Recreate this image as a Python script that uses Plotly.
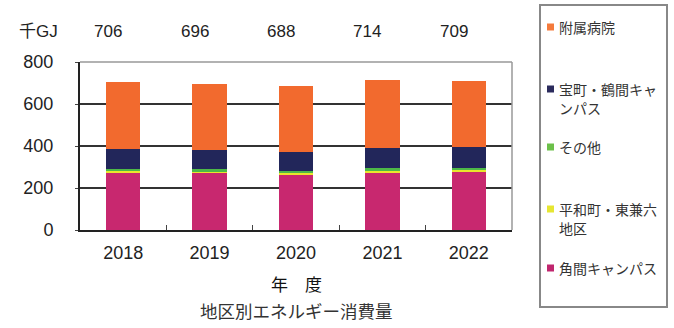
import plotly.graph_objects as go

years = ["2018", "2019", "2020", "2021", "2022"]
totals = [706, 696, 688, 714, 709]
kakuma = [272, 270, 262, 272, 275]
heiwa = [10, 10, 10, 11, 10]
sonota = [10, 9, 10, 11, 10]
takara = [95, 93, 91, 95, 99]
fuzoku = [319, 314, 315, 325, 315]

series_names = ["角間キャンパス", "平和町・東兼六地区", "その他", "宝町・鶴間キャンパス", "附属病院"]
series_vals = [kakuma, heiwa, sonota, takara, fuzoku]
bar_colors = ["#C8286F", "#E9E62C", "#4DB848", "#22265A", "#F26A2E"]

FONT = "Liberation Sans, Noto Sans CJK JP, sans-serif"
JP = "Noto Sans CJK JP, sans-serif"

fig = go.Figure()
for name, vals, col in zip(series_names, series_vals, bar_colors):
    fig.add_trace(go.Bar(x=years, y=vals, name=name, marker=dict(color=col, line=dict(width=0)),
                         showlegend=False))

ann = []
ann.append(dict(text="千GJ", xref="paper", yref="paper", x=-0.095, xanchor="center", y=1.0,
                yanchor="middle", yshift=31, showarrow=False,
                font=dict(family=FONT, size=17, color="#222")))
for i, t in enumerate(totals):
    ann.append(dict(text=str(t), xref="paper", yref="paper", x=(i + 0.5) / len(totals), xshift=-15,
                    xanchor="center", y=1.0, yanchor="middle", yshift=31, showarrow=False,
                    font=dict(family=FONT, size=17, color="#222")))
ann.append(dict(text="年　度", xref="paper", yref="paper", x=0.5, xanchor="center", y=0, yshift=-53,
                yanchor="middle", showarrow=False, font=dict(family=JP, size=17, color="#111")))
ann.append(dict(text="地区別エネルギー消費量", xref="paper", yref="paper", x=0.5, xanchor="center",
                y=0, yshift=-80, yanchor="middle", showarrow=False,
                font=dict(family=JP, size=17.5, color="#333")))

# legend (manual): (lines, marker colour, y of each line in px from top)
legend_items = [
    (["附属病院"], "#F47A3C", [27]),
    (["宝町・鶴間キャ", "ンパス"], "#2B2B5C", [89, 108]),
    (["その他"], "#6CC04A", [147]),
    (["平和町・東兼六", "地区"], "#E6E632", [209, 228]),
    (["角間キャンパス"], "#C0266E", [268]),
]
W, H, L, B = 432, 168, 80, 230
px = lambda x: (x - L) / W
py = lambda y: (B - y) / H
shapes = [dict(type="rect", xref="paper", yref="paper", x0=px(540), x1=px(667),
               y0=py(307), y1=py(5), line=dict(color="#888", width=2), fillcolor="white",
               layer="below")]
for lines, col, ys in legend_items:
    shapes.append(dict(type="rect", xref="paper", yref="paper",
                       x0=px(547), x1=px(554), y0=py(ys[0] + 3.5), y1=py(ys[0] - 3.5),
                       line=dict(width=0), fillcolor=col))
    for txt, yy in zip(lines, ys):
        ann.append(dict(text=txt, xref="paper", yref="paper", x=px(557), y=py(yy),
                        xanchor="left", yanchor="middle", align="left", showarrow=False,
                        font=dict(family=JP, size=14, color="#333")))

fig.update_layout(
    width=674, height=328,
    margin=dict(l=80, r=162, t=62, b=98),
    barmode="stack", bargap=0.6,
    plot_bgcolor="white", paper_bgcolor="white",
    annotations=ann, shapes=shapes,
    xaxis=dict(type="category", showline=True, linecolor="#222", linewidth=2, mirror=False,
               ticks="inside", tickson="boundaries", ticklen=5, tickcolor="#444",
               ticklabelstandoff=5,
               tickfont=dict(family=FONT, size=18, color="#222"), showgrid=False),
    yaxis=dict(range=[0, 800], tickvals=[0, 200, 400, 600, 800], showline=True, linecolor="#222",
               linewidth=2, gridcolor="#333", gridwidth=1.8, ticks="outside", ticklen=3,
               tickcolor="#444", ticklabelstandoff=18,
               tickfont=dict(family=FONT, size=18, color="#222"), zeroline=False),
)
# top/right border
fig.add_shape(type="line", xref="paper", yref="paper", x0=0, x1=1, y0=1, y1=1,
              line=dict(color="#999", width=1.5))
fig.add_shape(type="line", xref="paper", yref="paper", x0=1, x1=1, y0=0, y1=1,
              line=dict(color="#999", width=1.5))

fig.write_html("out.html")
